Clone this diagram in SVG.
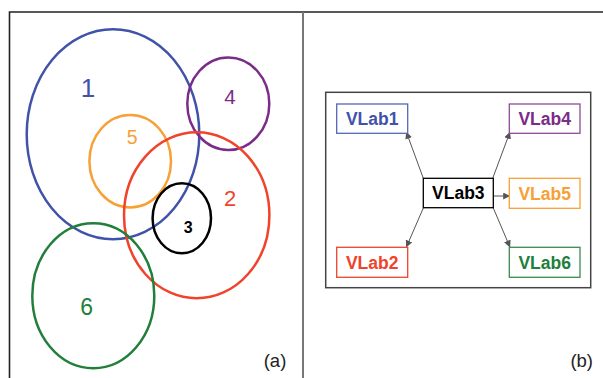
<svg xmlns="http://www.w3.org/2000/svg" width="603" height="378" viewBox="0 0 603 378">
<defs>
<marker id="ah" viewBox="0 0 10 10" refX="9" refY="5" markerWidth="7" markerHeight="7" markerUnits="userSpaceOnUse" orient="auto">
<path d="M0,0 L10,5 L0,10 z" fill="#555"/>
</marker>
<style>
.c{fill:none;stroke-width:2.5}
.n{font-family:"Liberation Sans",Arial,sans-serif;text-anchor:middle}
.b{font-family:"Liberation Sans",Arial,sans-serif;font-weight:bold;font-size:17.5px;text-anchor:middle}
.bx{fill:#fff;stroke-width:1.3}
.ar{stroke:#555;stroke-width:1;fill:none;marker-end:url(#ah)}
</style>
</defs>
<rect width="603" height="378" fill="#fff"/>
<g id="frame">
<path d="M9.5,378 V12 H603" fill="none" stroke="#222" stroke-width="1.6"/>
<line x1="303" y1="12" x2="303" y2="378" stroke="#777" stroke-width="2"/>
</g>
<g id="panel-a">
<g id="c1"><ellipse class="c" cx="113" cy="134.3" rx="86.3" ry="105" stroke="#4153A8"/><text class="n" x="88" y="97" font-size="26" fill="#4153A8">1</text></g>
<g id="c5"><ellipse class="c" cx="130.2" cy="161.2" rx="40.8" ry="46.2" stroke="#F7A035"/><text class="n" x="132.3" y="144" font-size="19.5" fill="#F7A035">5</text></g>
<g id="c4"><ellipse class="c" cx="228.3" cy="103.7" rx="41" ry="46.3" stroke="#7B2B88"/><text class="n" x="230" y="104" font-size="20.5" fill="#7B2B88">4</text></g>
<g id="c2"><ellipse class="c" cx="196.7" cy="215.3" rx="72.7" ry="83" stroke="#F0432B"/><text class="n" x="230" y="205.7" font-size="22" fill="#F0432B">2</text></g>
<g id="c3"><ellipse class="c" cx="181.8" cy="218.3" rx="29.2" ry="35" stroke="#000"/><text class="n" x="188.3" y="233.3" font-size="16" font-weight="bold" fill="#000">3</text></g>
<g id="c6"><ellipse class="c" cx="93.3" cy="295.8" rx="61" ry="72.5" stroke="#227F3B"/><text class="n" x="86.7" y="315" font-size="23" fill="#227F3B">6</text></g>
<text class="n" x="275" y="366.5" font-size="18.5" fill="#222">(a)</text>
</g>
<g id="panel-b">
<rect x="325.7" y="92.3" width="265" height="195.4" fill="none" stroke="#444" stroke-width="1.5"/>
<g id="connectors">
<line class="ar" x1="423.3" y1="178.3" x2="406.5" y2="132.5"/>
<line class="ar" x1="492.7" y1="178.3" x2="509.8" y2="132.5"/>
<line class="ar" x1="493.3" y1="196" x2="509.5" y2="196"/>
<line class="ar" x1="423.3" y1="208" x2="406.5" y2="246.8"/>
<line class="ar" x1="493.3" y1="208" x2="509.8" y2="246.8"/>
</g>
<g id="vlab1"><rect class="bx" x="336.7" y="104" width="71" height="29.3" stroke="#5566BB"/><text class="b" x="372.2" y="125" fill="#4153A8">VLab1</text></g>
<g id="vlab4"><rect class="bx" x="509.3" y="104" width="70.7" height="29.3" stroke="#8E4A99"/><text class="b" x="544.7" y="125" fill="#7B2B88">VLab4</text></g>
<g id="vlab3"><rect class="bx" x="423.3" y="178.3" width="70" height="29.4" stroke="#000"/><text class="b" x="458.3" y="199.3" fill="#000">VLab3</text></g>
<g id="vlab5"><rect class="bx" x="509.3" y="178.3" width="70.7" height="30" stroke="#F7A035"/><text class="b" x="544.7" y="199.5" fill="#F7A035">VLab5</text></g>
<g id="vlab2"><rect class="bx" x="336.7" y="247.3" width="71" height="30" stroke="#F0432B"/><text class="b" x="372.2" y="268.5" fill="#F0432B">VLab2</text></g>
<g id="vlab6"><rect class="bx" x="509.3" y="247.3" width="70.7" height="30" stroke="#3B8B50"/><text class="b" x="544.7" y="268.5" fill="#227F3B">VLab6</text></g>
<text class="n" x="581.7" y="366.5" font-size="18.5" fill="#222">(b)</text>
</g>
</svg>
